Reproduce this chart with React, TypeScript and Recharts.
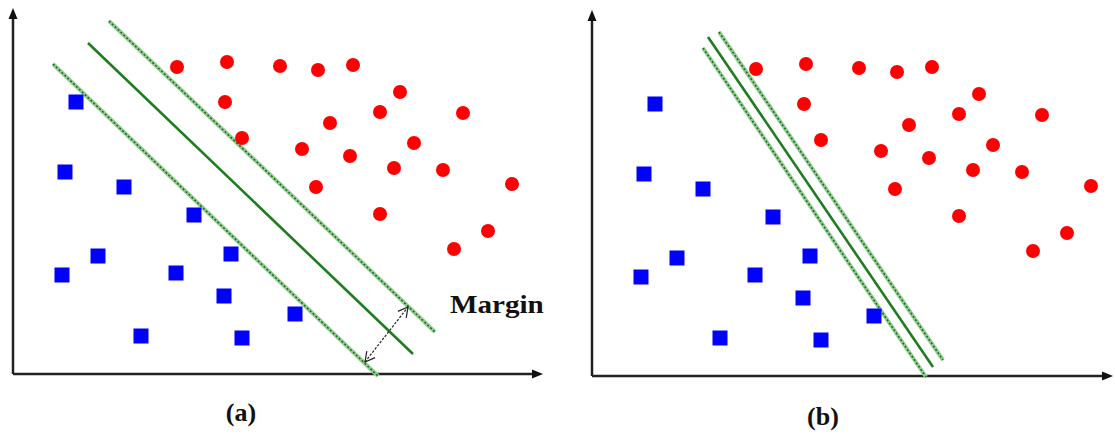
import React from "react";
import { ScatterChart, Scatter, XAxis, YAxis, ReferenceLine, Customized } from "recharts";

interface Pt {
  x: number;
  y: number;
}

// the same training samples are used in both panels
const redPoints: Pt[] = [
  { x: 164, y: 307 }, { x: 214, y: 312 }, { x: 267, y: 308 }, { x: 305, y: 304 },
  { x: 340, y: 309 }, { x: 212, y: 272 }, { x: 387, y: 282 }, { x: 367, y: 262 },
  { x: 450, y: 261 }, { x: 229, y: 236 }, { x: 317, y: 251 }, { x: 401, y: 231 },
  { x: 289, y: 225 }, { x: 337, y: 218 }, { x: 381, y: 206 }, { x: 430, y: 204 },
  { x: 303, y: 187 }, { x: 499, y: 190 }, { x: 367, y: 160 }, { x: 475, y: 143 },
  { x: 441, y: 125 },
];

const bluePoints: Pt[] = [
  { x: 63, y: 272 }, { x: 52, y: 202 }, { x: 111, y: 187 }, { x: 181, y: 159 },
  { x: 218, y: 120 }, { x: 85, y: 118 }, { x: 49, y: 99 }, { x: 163, y: 101 },
  { x: 211, y: 78 }, { x: 282, y: 60 }, { x: 128, y: 38 }, { x: 229, y: 36 },
];

// panel (a): wide margin separator
const wideUpper: Pt[] = [{ x: 96, y: 353 }, { x: 422, y: 42 }];
const wideCenter: Pt[] = [{ x: 75, y: 331 }, { x: 400, y: 20 }];
const wideLower: Pt[] = [{ x: 40, y: 310 }, { x: 365, y: -2 }];
const marginArrow: Pt[] = [{ x: 352, y: 12 }, { x: 395, y: 67 }];

// panel (b): narrow margin separator
const narrowUpper: Pt[] = [{ x: 127, y: 344 }, { x: 351, y: 16 }];
const narrowCenter: Pt[] = [{ x: 116, y: 339 }, { x: 341, y: 9 }];
const narrowLower: Pt[] = [{ x: 111, y: 328 }, { x: 334, y: -1 }];

const RedDot = (p: any) => <circle cx={p.cx} cy={p.cy} r={7} fill="#ff0000" />;
const BlueSquare = (p: any) => (
  <rect x={p.cx - 7.5} y={p.cy - 7.5} width={15} height={15} fill="#0000ff" />
);

const axisArrow = (p: any) => {
  const { x1, y1, x2, y2 } = p;
  const a = Math.atan2(y2 - y1, x2 - x1);
  const c = Math.cos(a), s = Math.sin(a);
  const bx = x2 - 11 * c, by = y2 - 11 * s;
  return (
    <g>
      <line x1={x1} y1={y1} x2={bx} y2={by} stroke="#222" strokeWidth={2.5} />
      <polygon
        points={`${x2},${y2} ${bx - 4.5 * s},${by + 4.5 * c} ${bx + 4.5 * s},${by - 4.5 * c}`}
        fill="#111"
      />
    </g>
  );
};

const openHead = (tx: number, ty: number, a: number) => {
  const l = 11, w = 0.5;
  return `M${tx - l * Math.cos(a - w)},${ty - l * Math.sin(a - w)} L${tx},${ty} L${tx - l * Math.cos(a + w)},${ty - l * Math.sin(a + w)}`;
};

const doubleArrow = (p: any) => {
  const { x1, y1, x2, y2 } = p;
  const a = Math.atan2(y2 - y1, x2 - x1);
  return (
    <g stroke="#222" fill="none" strokeWidth={1.2}>
      <line x1={x1} y1={y1} x2={x2} y2={y2} strokeDasharray="2.5 1.5" />
      <path d={openHead(x2, y2, a)} />
      <path d={openHead(x1, y1, a + Math.PI)} />
    </g>
  );
};

const marginLine = (p: any) => (
  <g>
    <line x1={p.x1} y1={p.y1} x2={p.x2} y2={p.y2} stroke="#94cc94" strokeWidth={4} />
    <line x1={p.x1} y1={p.y1} x2={p.x2} y2={p.y2} stroke="#176d17" strokeWidth={1.5} strokeDasharray="2 2" />
  </g>
);

const centerLine = (p: any) => (
  <line x1={p.x1} y1={p.y1} x2={p.x2} y2={p.y2} stroke="#1e7d1e" strokeWidth={2.6} />
);

interface PanelProps {
  left: number;
  top: number;
  width: number;
  height: number;
  xDomain: [number, number];
  yDomain: [number, number];
  axisX: number;
  upper: Pt[];
  center: Pt[];
  lower: Pt[];
  arrow?: Pt[];
  caption: string;
  captionX: number;
  captionY: number;
}

const serif = "'Liberation Serif', 'Times New Roman', serif";

const Panel = (p: PanelProps) => (
  <div style={{ position: "absolute", left: p.left, top: p.top }}>
    <ScatterChart width={p.width} height={p.height} margin={{ top: 0, right: 0, bottom: 0, left: 0 }}>
      <XAxis type="number" dataKey="x" domain={p.xDomain} allowDataOverflow hide />
      <YAxis type="number" dataKey="y" domain={p.yDomain} allowDataOverflow hide />
      <ReferenceLine segment={[{ x: 0, y: 0 }, { x: 0, y: 366 }]} shape={axisArrow} ifOverflow="visible" />
      <ReferenceLine segment={[{ x: 0, y: 0 }, { x: p.axisX, y: 0 }]} shape={axisArrow} ifOverflow="visible" />
      <Scatter data={bluePoints} shape={BlueSquare} isAnimationActive={false} />
      <Scatter data={redPoints} shape={RedDot} isAnimationActive={false} />
      <ReferenceLine segment={p.upper} shape={marginLine} ifOverflow="visible" />
      <ReferenceLine segment={p.lower} shape={marginLine} ifOverflow="visible" />
      <ReferenceLine segment={p.center} shape={centerLine} ifOverflow="visible" />
      {p.arrow && <ReferenceLine segment={p.arrow} shape={doubleArrow} ifOverflow="visible" />}
      <Customized
        component={() => (
          <g style={{ fontFamily: serif, fontWeight: 700 }} fill="#111">
            <text x={p.captionX} y={p.captionY} fontSize={26} textAnchor="middle">
              {p.caption}
            </text>
            {p.arrow && (
              <text x={450} y={313} fontSize={26} transform="translate(450 0) scale(1.12 1) translate(-450 0)">
                Margin
              </text>
            )}
          </g>
        )}
      />
    </ScatterChart>
  </div>
);

export default function App() {
  return (
    <div style={{ position: "absolute", left: 0, top: 0, width: 1115, height: 436, background: "#fff" }}>
      <Panel
        left={0} top={0} width={557} height={436}
        xDomain={[-13, 544]} yDomain={[-62, 374]} axisX={530}
        upper={wideUpper} center={wideCenter} lower={wideLower} arrow={marginArrow}
        caption="(a)" captionX={241} captionY={421}
      />
      <Panel
        left={557} top={2} width={558} height={434}
        xDomain={[-35, 523]} yDomain={[-60, 374]} axisX={521}
        upper={narrowUpper} center={narrowCenter} lower={narrowLower}
        caption="(b)" captionX={266} captionY={423}
      />
    </div>
  );
}
